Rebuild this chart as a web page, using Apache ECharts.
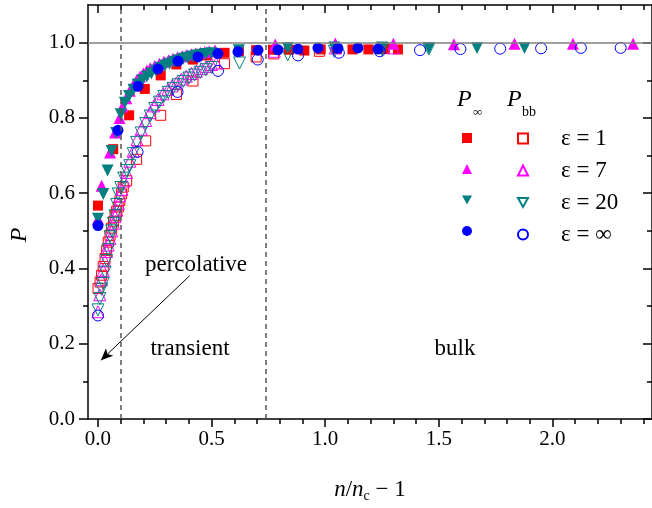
<!DOCTYPE html>
<html lang="en">
<head>
<meta charset="UTF-8">
<title>P vs n/nc - 1</title>
<script src="https://cdn.jsdelivr.net/npm/echarts@6/dist/echarts.min.js"></script>
</head>
<body style="margin:0;">
<div id="main" style="width:652px;height:508px;"></div>
<script>
// P_inf (filled) and P_bb (open) for each epsilon, pairs of [n/nc - 1, P]
var eps1Inf = [[0,0.567],[0.067,0.717],[0.137,0.807],[0.206,0.877],[0.276,0.913],[0.345,0.942],[0.418,0.955],[0.48,0.966],[0.557,0.973],[0.62,0.977],[0.696,0.98],[0.77,0.981],[0.84,0.981],[0.908,0.979],[0.98,0.982],[1.05,0.983],[1.12,0.982],[1.19,0.982],[1.26,0.983],[1.32,0.982]];
var eps1Bb = [[0,0.347],[0.009,0.364],[0.016,0.382],[0.023,0.405],[0.031,0.426],[0.038,0.448],[0.045,0.47],[0.053,0.488],[0.06,0.507],[0.068,0.524],[0.075,0.54],[0.082,0.552],[0.089,0.563],[0.096,0.58],[0.104,0.598],[0.111,0.616],[0.126,0.633],[0.17,0.69],[0.21,0.739],[0.276,0.807],[0.345,0.862],[0.418,0.898],[0.557,0.944],[0.696,0.962],[0.773,0.97],[0.974,0.977],[1.26,0.986]];
var eps7Inf = [[0,0.532],[0.016,0.62],[0.053,0.708],[0.075,0.761],[0.095,0.8],[0.108,0.83],[0.125,0.852],[0.14,0.872],[0.155,0.887],[0.17,0.9],[0.185,0.91],[0.2,0.918],[0.215,0.926],[0.23,0.932],[0.25,0.938],[0.27,0.944],[0.29,0.949],[0.31,0.953],[0.33,0.957],[0.35,0.961],[0.37,0.964],[0.39,0.967],[0.41,0.969],[0.43,0.971],[0.45,0.973],[0.47,0.975],[0.49,0.977],[0.515,0.979],[0.78,0.995],[1.044,0.998],[1.3,0.997],[1.566,0.996],[1.833,0.997],[2.09,0.997],[2.355,0.997]];
var eps7Bb = [[0,0.285],[0.008,0.33],[0.015,0.37],[0.023,0.395],[0.03,0.42],[0.038,0.445],[0.045,0.462],[0.053,0.479],[0.06,0.5],[0.068,0.52],[0.075,0.538],[0.083,0.555],[0.09,0.572],[0.096,0.593],[0.105,0.61],[0.115,0.632],[0.126,0.655],[0.14,0.685],[0.155,0.712],[0.172,0.742],[0.19,0.77],[0.21,0.793],[0.228,0.814],[0.246,0.832],[0.264,0.849],[0.286,0.864],[0.308,0.876],[0.326,0.885],[0.345,0.893],[0.367,0.903],[0.389,0.911],[0.411,0.918],[0.433,0.924],[0.455,0.931],[0.477,0.937],[0.5,0.942],[0.52,0.946],[0.776,0.977],[1.044,0.986],[1.3,0.986]];
var eps20Inf = [[0,0.532],[0.023,0.598],[0.042,0.66],[0.06,0.712],[0.08,0.76],[0.1,0.81],[0.118,0.84],[0.137,0.858],[0.156,0.875],[0.175,0.889],[0.195,0.9],[0.215,0.91],[0.235,0.918],[0.255,0.926],[0.275,0.933],[0.295,0.939],[0.315,0.944],[0.335,0.949],[0.355,0.953],[0.375,0.957],[0.395,0.96],[0.415,0.963],[0.435,0.966],[0.455,0.968],[0.475,0.97],[0.5,0.972],[0.62,0.98],[0.835,0.986],[1.04,0.987],[1.25,0.987],[1.456,0.986],[1.668,0.986],[1.877,0.986]];
var eps20Bb = [[0,0.29],[0.008,0.32],[0.016,0.345],[0.023,0.36],[0.031,0.39],[0.038,0.421],[0.045,0.45],[0.053,0.484],[0.06,0.5],[0.068,0.52],[0.075,0.54],[0.082,0.57],[0.089,0.598],[0.1,0.615],[0.113,0.64],[0.126,0.66],[0.14,0.673],[0.155,0.705],[0.17,0.735],[0.19,0.76],[0.21,0.785],[0.23,0.805],[0.25,0.825],[0.27,0.842],[0.29,0.857],[0.31,0.868],[0.33,0.878],[0.352,0.888],[0.375,0.897],[0.4,0.906],[0.425,0.914],[0.45,0.921],[0.475,0.928],[0.5,0.934],[0.623,0.946],[0.835,0.968],[1.04,0.977],[1.25,0.981],[1.456,0.983]];
var epsInfInf = [[0,0.514],[0.088,0.767],[0.176,0.884],[0.264,0.93],[0.352,0.951],[0.44,0.962],[0.528,0.971],[0.616,0.976],[0.704,0.98],[0.792,0.981],[0.88,0.983],[0.968,0.986],[1.056,0.985],[1.144,0.986],[1.232,0.983]];
var epsInfBb = [[0,0.275],[0.174,0.71],[0.35,0.869],[0.528,0.925],[0.703,0.955],[0.88,0.966],[1.06,0.973],[1.24,0.977],[1.417,0.98],[1.595,0.983],[1.77,0.984],[1.95,0.985],[2.125,0.986],[2.3,0.986]];

var epsLabels = ['ε = 1', 'ε = 7', 'ε = 20', 'ε = ∞'];

// ticks
var xMajor = [0, 0.5, 1, 1.5, 2];
var xMinor = [0.1, 0.2, 0.3, 0.4, 0.6, 0.7, 0.8, 0.9, 1.1, 1.2, 1.3, 1.4, 1.6, 1.7, 1.8, 1.9, 2.1, 2.2, 2.3, 2.4];
var yMajor = [0, 0.2, 0.4, 0.6, 0.8, 1.0];
var yMinor = [0.1, 0.3, 0.5, 0.7, 0.9];

var xMin = -0.044, xMax = 2.438;
var regionLines = [0.1, 0.74];
var arrowFrom = [0.404, 0.381], arrowTo = [0.013, 0.156];

var serif = 'Liberation Serif';
var black = '#000';
var downTri = 'path://M0,0 L10,0 L5,9 Z';

function xAx(pos, ticks, len, inside, showLine, labels, extra) {
    var a = {
        type: 'value', position: pos, min: xMin, max: xMax,
        splitLine: {show: false},
        axisLine: {show: showLine, onZero: false, lineStyle: {color: black, width: 1.5}},
        axisTick: {show: true, inside: inside, length: len, customValues: ticks, lineStyle: {color: black, width: 1.5}},
        axisLabel: labels ? {customValues: ticks, margin: 10, fontFamily: serif, fontSize: 21, color: black,
            formatter: function (v) { return v.toFixed(1); }} : {show: false}
    };
    return Object.assign(a, extra || {});
}
function yAx(pos, ticks, len, inside, showLine, labels) {
    return {
        type: 'value', position: pos, min: 0, max: 1.1,
        splitLine: {show: false},
        axisLine: {show: showLine, onZero: false, lineStyle: {color: black, width: 1.5}},
        axisTick: {show: true, inside: inside, length: len, customValues: ticks, lineStyle: {color: black, width: 1.5}},
        axisLabel: labels ? {customValues: ticks, margin: 13, fontFamily: serif, fontSize: 21, color: black,
            formatter: function (v) { return v.toFixed(1); }} : {show: false}
    };
}

function sc(name, data, symbol, color, filled, rotate, size) {
    return {
        name: name, type: 'scatter', data: data, symbol: symbol, symbolSize: size,
        symbolRotate: rotate || 0,
        itemStyle: filled ? {color: color, opacity: 1} : {color: 'transparent', borderColor: color, borderWidth: 1, opacity: 1},
        silent: true
    };
}

var series = [
    sc('inf1', eps1Inf, 'rect', '#ff0000', true, 0, 10),
    sc('bb1', eps1Bb, 'rect', '#ff0000', false, 0, 10),
    sc('inf7', eps7Inf, 'triangle', '#ff00ff', true, 0, 12),
    sc('bb7', eps7Bb, 'triangle', '#ff00ff', false, 0, 12),
    sc('inf20', eps20Inf, 'triangle', '#008080', true, 180, 12),
    sc('bb20', eps20Bb, 'triangle', '#008080', false, 180, 12),
    sc('infInf', epsInfInf, 'circle', '#0000ff', true, 0, 11),
    sc('bbInf', epsInfBb, 'circle', '#0000ff', false, 0, 11)
];

series[0].markLine = {
    silent: true, symbol: ['none', 'none'], label: {show: false}, animation: false,
    data: [
        {yAxis: 1, lineStyle: {color: '#808080', type: 'solid', width: 1.5}},
        {xAxis: regionLines[0], lineStyle: {color: '#555', type: [5, 4], width: 1.5}},
        {xAxis: regionLines[1], lineStyle: {color: '#555', type: [5, 4], width: 1.5}},
        [{coord: arrowFrom, symbol: 'none'},
         {coord: arrowTo, symbol: 'arrow', symbolSize: [8, 12], lineStyle: {color: black, width: 1, type: 'solid'}}]
    ]
};

var legendFmtOpen = {bb1: epsLabels[0], bb7: epsLabels[1], bb20: epsLabels[2], bbInf: epsLabels[3]};

var option = {
    animation: false,
    grid: {left: 88, right: -2, top: 5, bottom: 87},
    xAxis: [
        xAx('bottom', xMajor, 8, false, true, true, {
            name: '{i|n}{r|/}{i|n}{s|c}{r| − 1}', nameLocation: 'middle', nameGap: 58,
            nameTextStyle: {rich: {
                i: {fontFamily: serif, fontStyle: 'italic', fontSize: 23, color: black},
                r: {fontFamily: serif, fontSize: 23, color: black},
                s: {fontFamily: serif, fontSize: 14, color: black, padding: [12, 0, 0, 0]}
            }}
        }),
        xAx('bottom', xMinor, 5, false, false, false),
        xAx('top', xMajor, 8, true, true, false),
        xAx('top', xMinor, 5, true, false, false)
    ],
    yAxis: [
        yAx('left', yMajor, 9, false, true, true),
        yAx('left', yMinor, 5, false, false, false),
        yAx('right', yMajor, 9, true, true, false),
        yAx('right', yMinor, 5, true, false, false)
    ],
    legend: [
        {
            data: ['inf1', 'inf7', {name: 'inf20', icon: downTri}, 'infInf'],
            orient: 'vertical', left: 462, top: 127, padding: 0,
            itemWidth: 10, itemHeight: 10, itemGap: 9, selectedMode: false,
            formatter: function () { return '{t| }'; },
            textStyle: {rich: {t: {fontSize: 22, lineHeight: 22, fontFamily: serif}}}
        },
        {
            data: ['bb1', 'bb7', {name: 'bb20', icon: downTri}, 'bbInf'],
            orient: 'vertical', left: 517, top: 127, padding: 0,
            itemWidth: 10, itemHeight: 10, itemGap: 9, selectedMode: false,
            formatter: function (n) { return '{s|}{t|' + legendFmtOpen[n] + '}'; },
            textStyle: {rich: {
                s: {width: 28},
                t: {fontSize: 23, lineHeight: 22, fontFamily: serif, color: black}
            }}
        }
    ],
    graphic: [
        {type: 'text', x: 20, y: 235, rotation: Math.PI / 2,
         style: {text: 'P', fontFamily: serif, fontStyle: 'italic', fontSize: 24, fill: black, align: 'center', verticalAlign: 'middle'}},
        {type: 'text', x: 457, y: 100,
         style: {text: 'P', fontFamily: serif, fontStyle: 'italic', fontSize: 24, fill: black, verticalAlign: 'middle'}},
        {type: 'text', x: 473, y: 113,
         style: {text: '∞', fontFamily: serif, fontSize: 13, fill: black, verticalAlign: 'middle'}},
        {type: 'text', x: 507, y: 100,
         style: {text: 'P', fontFamily: serif, fontStyle: 'italic', fontSize: 24, fill: black, verticalAlign: 'middle'}},
        {type: 'text', x: 522, y: 112,
         style: {text: 'bb', fontFamily: serif, fontSize: 14, fill: black, verticalAlign: 'middle'}},
        {type: 'text', x: 196, y: 265,
         style: {text: 'percolative', fontFamily: serif, fontSize: 23, fill: black, align: 'center', verticalAlign: 'middle'}},
        {type: 'text', x: 190, y: 349,
         style: {text: 'transient', fontFamily: serif, fontSize: 23, fill: black, align: 'center', verticalAlign: 'middle'}},
        {type: 'text', x: 455, y: 349,
         style: {text: 'bulk', fontFamily: serif, fontSize: 23, fill: black, align: 'center', verticalAlign: 'middle'}}
    ],
    series: series
};

var myChart = echarts.init(document.getElementById('main'));
myChart.setOption(option);
</script>
</body>
</html>
